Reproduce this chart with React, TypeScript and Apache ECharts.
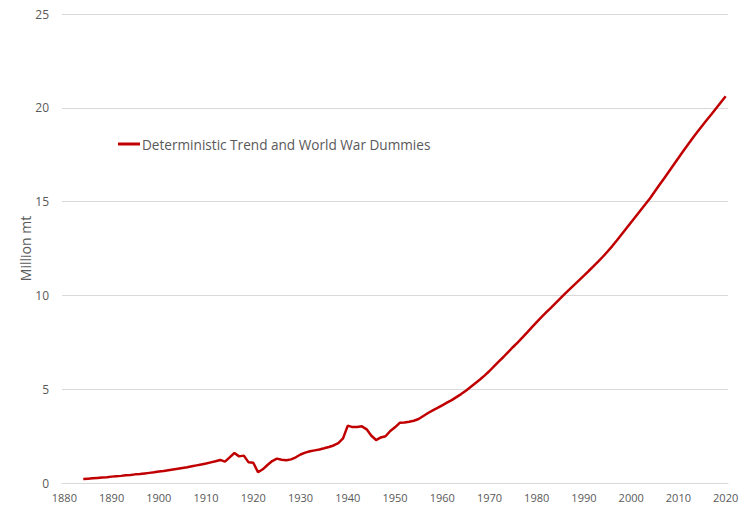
import React, { useEffect, useRef } from "react";
import * as echarts from "echarts";

const firstYear = 1880;
const lastYear = 2020;
const dataStartYear = 1884;
const seriesName = "Deterministic Trend and World War Dummies";
const yAxisName = "Million mt";

// Values 1884..2020 (Million mt)
const values: number[] = [
  0.21, 0.23, 0.25, 0.27, 0.29, 0.31,
  0.34, 0.36, 0.38, 0.41, 0.43, 0.46, 0.48, 0.51, 0.54, 0.57,
  0.61, 0.64, 0.68, 0.72, 0.76, 0.80, 0.84, 0.89, 0.94, 0.99,
  1.04, 1.10, 1.16, 1.23, 1.14, 1.37, 1.60, 1.42, 1.46, 1.10,
  1.08, 0.57, 0.73, 0.96, 1.17, 1.30, 1.24, 1.21, 1.26, 1.37,
  1.52, 1.62, 1.69, 1.74, 1.79, 1.85, 1.92, 2.00, 2.13, 2.38,
  3.06, 2.98, 2.98, 3.02, 2.86, 2.52, 2.29, 2.43, 2.49, 2.77,
  2.97, 3.21, 3.23, 3.27, 3.32, 3.41, 3.57, 3.73, 3.87, 4.00,
  4.14, 4.28, 4.42, 4.58, 4.74, 4.92, 5.12, 5.32, 5.52, 5.74,
  5.97, 6.23, 6.48, 6.73, 6.99, 7.25, 7.50, 7.76, 8.03, 8.31,
  8.58, 8.84, 9.09, 9.34, 9.59, 9.84, 10.09, 10.33, 10.57, 10.81,
  11.05, 11.30, 11.55, 11.80, 12.06, 12.34, 12.63, 12.94, 13.26, 13.58,
  13.90, 14.22, 14.54, 14.86, 15.18, 15.54, 15.90, 16.25, 16.60, 16.96,
  17.32, 17.68, 18.03, 18.38, 18.71, 19.03, 19.35, 19.66, 19.98, 20.30,
  20.62,
];

const yTicks = [0, 5, 10, 15, 20, 25];

export default function App() {
  const ref = useRef<HTMLDivElement>(null);

  useEffect(() => {
    if (!ref.current) return;
    const chart = echarts.init(ref.current, undefined, { renderer: "svg" });
    const years: string[] = [];
    for (let y = firstYear; y <= lastYear; y++) years.push(String(y));
    const data = years.map((y) => {
      const i = Number(y) - dataStartYear;
      return i >= 0 && i < values.length ? values[i] : null;
    });
    const font = "'Open Sans', 'Noto Sans', sans-serif";
    chart.setOption({
      animation: false,
      backgroundColor: "#ffffff",
      textStyle: { fontFamily: font },
      grid: { left: 62, right: 22, top: 14, bottom: 34, containLabel: false },
      legend: {
        show: true,
        left: 113,
        top: 132,
        itemWidth: 22,
        itemHeight: 3,
        itemGap: 4,
        icon: "rect",
        data: [seriesName],
        textStyle: { color: "#595959", fontSize: 13.6, fontFamily: font, padding: [0, 0, 0, -3] },
      },
      xAxis: {
        type: "category",
        data: years,
        boundaryGap: true,
        axisLine: { show: true, lineStyle: { color: "#d9d9d9", width: 1 } },
        axisTick: { show: false },
        axisLabel: {
          color: "#595959",
          fontSize: 11,
          margin: 9,
          interval: (index: number) => index % 10 === 0,
        },
        splitLine: { show: false },
      },
      yAxis: {
        type: "value",
        min: yTicks[0],
        max: yTicks[yTicks.length - 1],
        interval: 5,
        name: yAxisName,
        nameLocation: "middle",
        nameGap: 30,
        nameMoveOverlap: false,
        nameRotate: 90,
        nameTextStyle: { color: "#595959", fontSize: 14 },
        axisLine: { show: false },
        axisTick: { show: false },
        axisLabel: { color: "#595959", fontSize: 12, margin: 13 },
        splitLine: { show: true, lineStyle: { color: "#d9d9d9", width: 1 } },
      },
      series: [
        {
          name: seriesName,
          type: "line",
          data,
          showSymbol: false,
          symbol: "none",
          connectNulls: false,
          lineStyle: { color: "#c00000", width: 2.5 },
          itemStyle: { color: "#c00000" },
        },
      ],
    });
    return () => chart.dispose();
  }, []);

  return (
    <div
      style={{
        position: "absolute",
        left: 0,
        top: 0,
        width: 750,
        height: 517,
        boxSizing: "border-box",
        border: "1px solid #d9d9d9",
        background: "#fff",
      }}
    >
      <div ref={ref} style={{ position: "absolute", left: -1, top: -1, width: 750, height: 517 }} />
    </div>
  );
}
